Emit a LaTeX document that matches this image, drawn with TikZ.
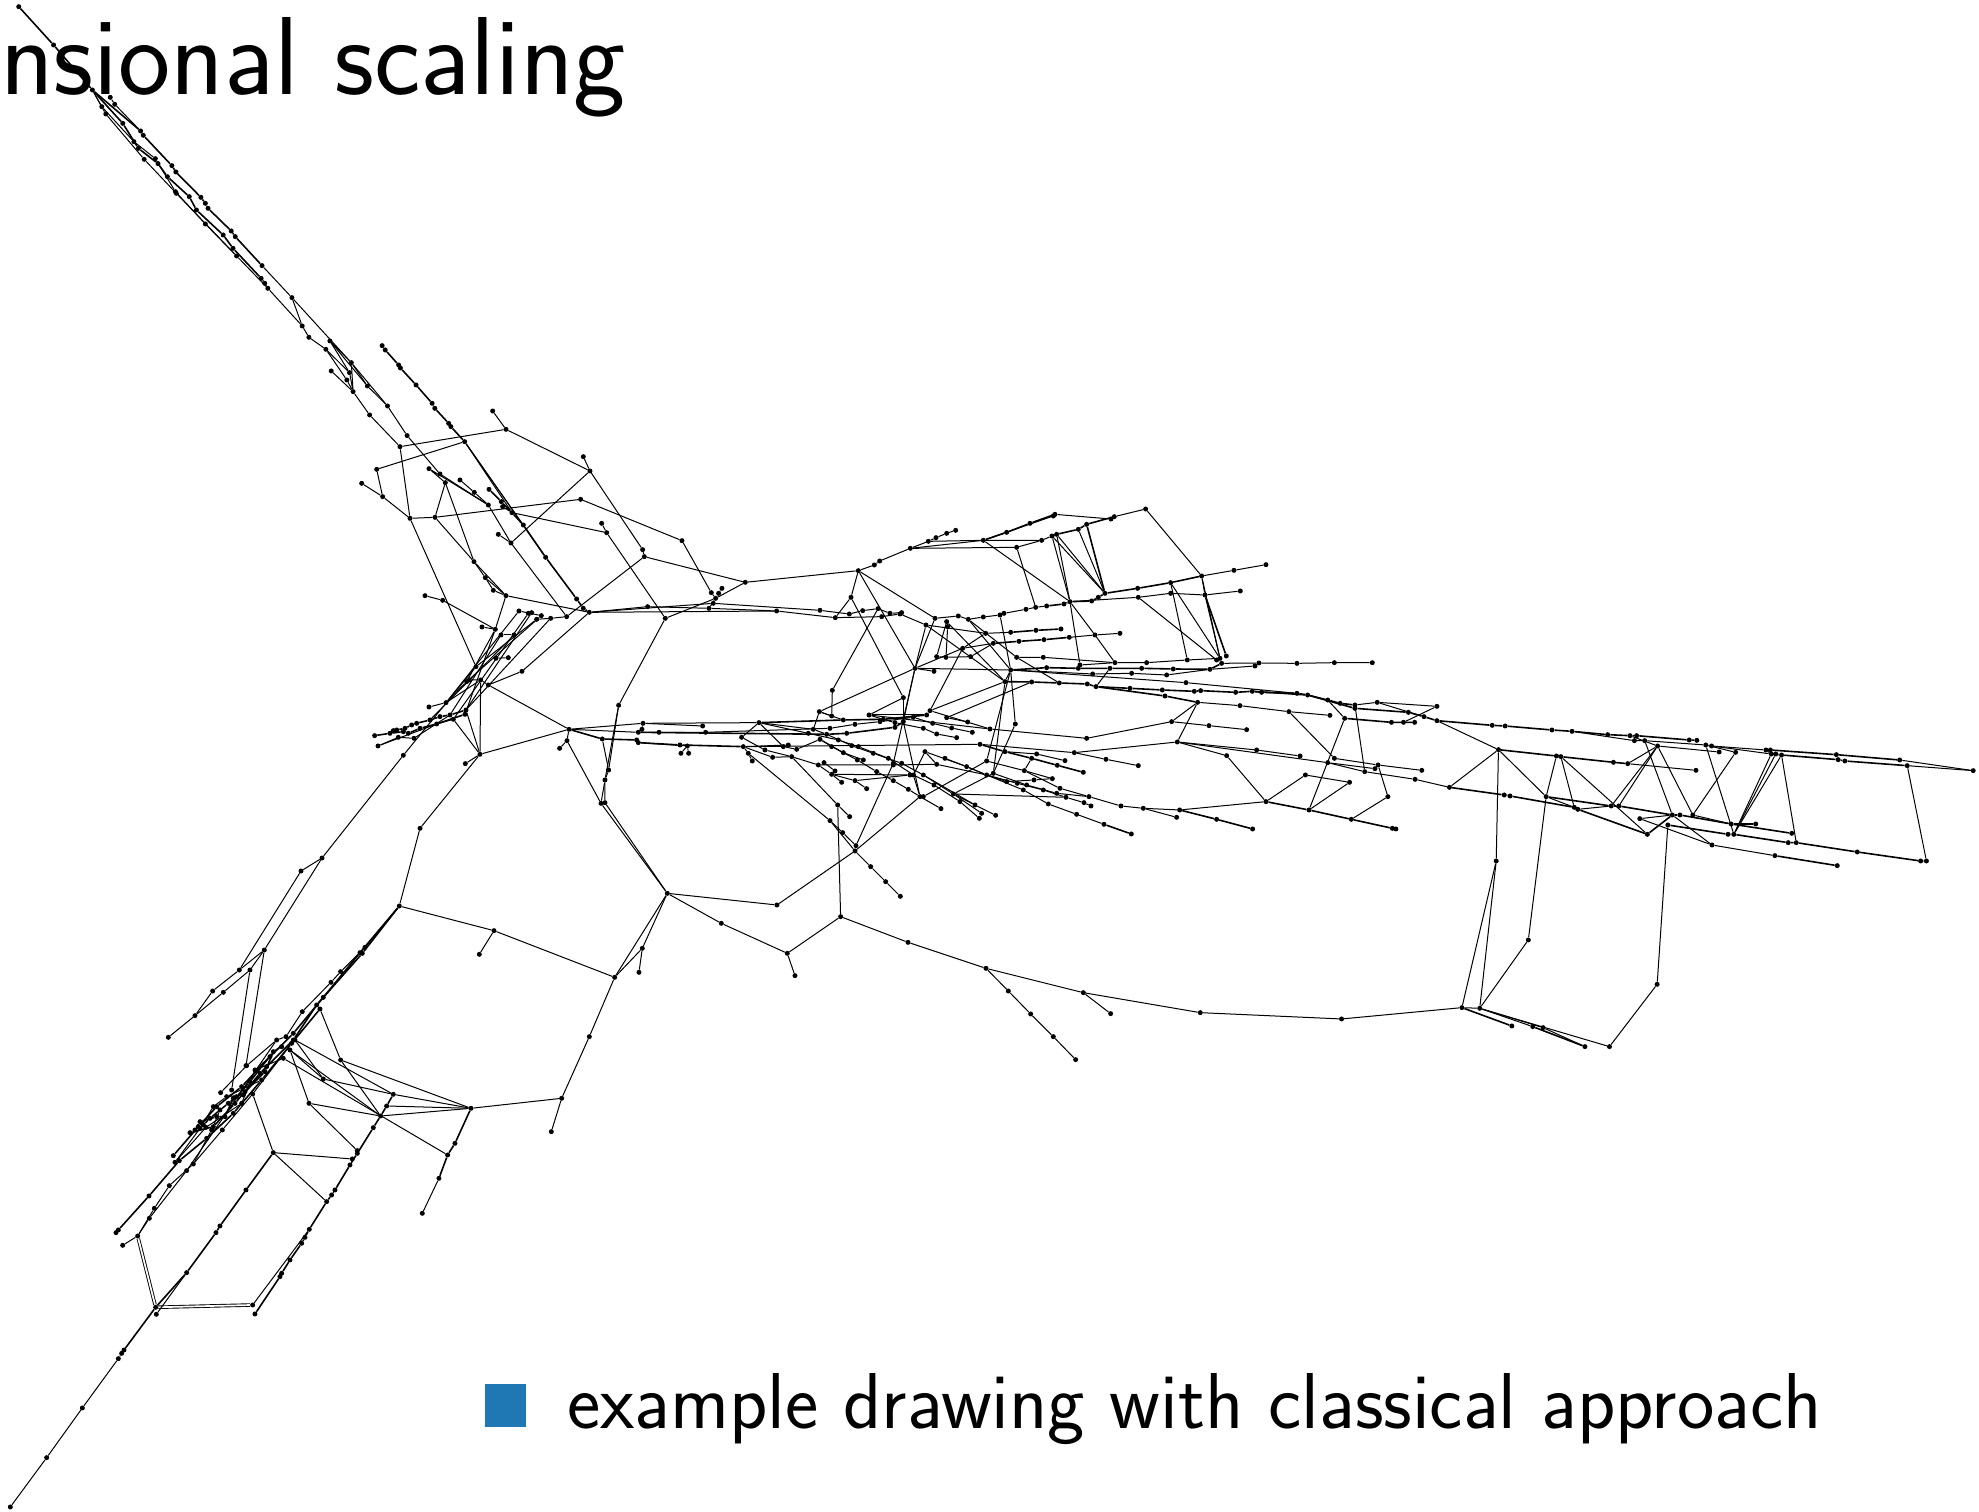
\documentclass[tikz,border=0pt]{standalone}
\usepackage{xcolor}
\definecolor{legendblue}{HTML}{1F77B4}
\begin{document}
\begin{tikzpicture}[
    x=1pt, y=-1pt,
    vtx/.style={circle, fill=black, inner sep=0pt, minimum size=5pt},
    link/.style={line width=1pt, black},
    heavy/.style={line width=1.6pt},
    twin/.style={double, double distance=1.7pt, line width=0.9pt},
    label/.style={anchor=base west, inner sep=0pt, font=\sffamily},
  ]
  \useasboundingbox (0,0) rectangle (1979,1512);

  % upper left arm
  \begin{scope}[x=0.4464pt, y=-0.3333pt]
    \foreach \name/\x/\y in {a1/42/20,a2/120/135,a3/207/270,a4/247/292,a5/257/313,a6/315/393,a7/321/406,a8/385/497,a9/394/516,a10/450/592,a11/460/610,a12/466/625,a13/518/693,a14/527/710,a15/587/797,a16/654/893,a17/228/320,a18/275/370,a19/300/425,a20/310/445,a21/348/476,a22/354/491,a23/375/530,a24/393/575,a25/424/590,a26/440/630,a27/460/672,a28/500/705,a29/522/745,a30/530/768,a31/585/835,a32/593/850,a33/600/865,a34/677/978,a35/692/1012,a36/730/1048,a37/783/1118,a38/791/1175,a39/828/1245,a40/237/342,a41/323/478,a42/395/580,a43/739/1023,a44/787/1088,a45/823/1158,a46/868/1218,a47/912/1307,a48/742/1113,a49/777/1140,a50/856/1037,a51/863/1050,a52/893/1095,a53/897/1104,a54/932/1155,a55/968/1210,a56/974/1225,a57/1005/1270,a58/1010/1280}
      \node[vtx] (\name) at (\x,\y) {};
  \end{scope}

  % left crossing
  \begin{scope}[shift={(340,400)}, x=0.3333pt, y=-0.3333pt]
    \foreach \name/\x/\y in {b1/180/140,b2/374/125,b3/498/88,b4/458/33,b5/750/213,b6/730/170,b7/513/429,b8/913/470,b9/908/449,b10/1216/547,b11/680/650,b12/110/208,b13/128/290,b14/210/355,b15/65/250,b16/285/352,b17/722/298,b18/1026/422,b19/1114/578,b20/1127/595,b21/976/655,b22/800/398,b23/785/370,b24/516/338,b25/836/916,b26/748/637,b27/923/620,b28/1107/625,b29/1310/633,b30/1120/610,b31/316/248,b32/402/485,b33/436/533,b34/498/587,b35/267/206,b36/445/315,b37/475/403,b38/360/240,b39/403/277,b40/447/268,b41/484/305,b42/488/320,b43/550/375,b44/617/472,b45/710/597,b46/730/625,b47/460/571,b48/466/688,b49/408/800,b50/255/587,b51/308/601,b52/426/681,b53/1146/565,b54/1136/580,b55/1440/631,b56/300/222,
      c1/537/633,c2/565/640,c3/575/638,c4/604/647,c5/632/655,c6/590/658,c7/483/705,c8/522/705,c9/505/773,c10/468/775,c11/546/814,c12/445/855,c13/422/840,c14/380/845,c15/388/840,c16/420/1063,c17/376/1091,c18/378/930,c19/375/943,c20/340/958,c21/318/908,c22/267/921,c23/104/1007,c24/150/1000,c25/170/990,c26/215/975,c27/270/960,c28/330/945,c29/114/1038,c30/175/1012,c31/222/1015,c32/290/972,c33/190/1066,c34/190/995,c35/240/985,c36/160/992,c37/195/985,c38/230/970,c39/300/950,c40/205/1000,
      e1/687/988,e2/681/1022,e3/659/1045,e4/787/1017,e5/806/1110,e6/795/1140,e7/909/970,e8/895/997,e9/957/997,e10/1088/978,e11/1097/997,e12/1257/968,e13/906/988,e14/890/1020,e15/895/1028,e16/1020/1035,e17/1023/1060,e18/1046/1060,e19/1042/1038,e20/1205/1012,e21/1210/1040,e22/1225/1060,e23/1237/1083,e24/1275/1050,e25/1298/1072}
      \node[vtx] (\name) at (\x,\y) {};
  \end{scope}

  % centre and upper right
  \begin{scope}[shift={(780,480)}, x=0.3333pt, y=-0.3333pt]
    \foreach \name/\x/\y in {k1/235/272,k2/283/255,k3/299/243,k4/391/205,k5/445/184,k6/468/173,k7/500/160,k8/527/151,k9/710/202,k10/785/181,k11/610/181,k12/680/157,k13/750/130,k14/825/103,k15/820/108,k16/993/117,k17/1003/110,k18/1097/87,k19/1265/288,k20/816/168,k21/830/163,k22/895/148,k23/920/133,k24/870/365,k25/767/382,k26/975/340,k27/213/352,k28/166/413,k29/370/653,k30/405/565,k31/465/415,k32/208/402,k33/248/392,k34/294/386,k35/365/398,k37/330/400,k38/305/410,k39/360/402,k40/438/435,k41/617/460,k42/535/408,k43/565/418,k44/610/411,k45/660/405,k46/672/400,k47/738/388,k48/800/378,k49/852/372,k50/935/363,k51/955/352,k52/1073/325,k53/1172/308,k54/1362/271,k55/1458/254,k56/1075/352,k57/1172/340,k58/1275/345,k59/1381/333,k60/1310/540,k61/1222/540,k62/1320/535,k63/1339/528,k64/900/555,k65/1005/548,k66/692/457,k67/768/451,k68/843/447,k69/640/490,k70/717/484,k71/792/479,k72/868/472,k73/945/465,k74/1020/460,k75/710/532,k76/790/532,k77/462/574,k78/692/570,k79/800/563,k80/895/565,k81/990/565,k82/1085/565,k83/1180/567,k84/1290/568,k85/1325/550,k86/1437/549,k87/1100/548,k88/938/582,k89/1055/580,k90/1160/585,k91/1425/558,k92/675/605,k93/755/606,k94/838/609,k95/922/612,k96/948/620,k97/1050/625,k98/1147/630,k99/1243/634,k100/1262/632,k101/1367/637,k102/1417/634,k103/1445/637,k104/1155/648,k105/1253/667,k106/1380/677,k107/1218/608,k108/1175/725,k109/920/775,k110/630/747,k111/450/692,k112/1287/737,k113/1400/749,k114/1192/786,k115/883/818,k116/600/793,k117/1340/827,k118/1458/965,k119/1430/810,k120/1199/990,k121/1090/985,k122/1023/978,k123/927/950,k124/840/925,k125/1310/1018,k126/1418/1047,k127/1190/1012,k128/500/713,k129/118/695,k130/548/505,k131/572/530,k132/498/532,k133/503/440,k134/500/425,k135/706/732,k136/640/880,k137/620/843,k138/370/725,k139/420/950,k140/340/850,k141/228/1097,k142/225/1113,k143/157/631,k144/155/708,k145/267/705,k146/470/530,
      n1/190/720,n2/310/718,n3/440/705,n4/150/745,n5/225/733,n6/300/725,n7/400/712,n8/140/763,n9/200/760,n10/345/742,n11/120/778,n12/155/800,n13/232/840,n14/290/875,n15/340/902,n16/385/928,n17/85/760,n18/175/780,n19/235/800,n20/325/835,n21/400/885,n22/462/915,n23/540/965,n24/598/1015,n25/100/748,n26/215/797,n27/280/820,n28/365/850,n29/430/885,n30/520/942,n31/605/1000,n33/190/818,n34/250/840,n35/10/800,n36/35/830,n37/115/855,n38/340/855,n39/470/853,n40/620/885,n41/730/930,n42/805/972,n43/890/1003,n44/972/1033,n45/1054/1062,n46/173/975,n47/209/1010,n49/150/1022,n50/188/1058,n51/272/1160,n53/155/883,n54/132/848,n55/165/873,n56/185/907,n57/225/902,n58/260/926,n59/435/815,n60/675/815,n61/755/835,n62/832/856,n63/910/877,n64/770/822,n65/855/842,n66/733/872,n67/817/896,n68/978/838,n69/1075/857,n70/560/860,n71/680/905,n72/762/900,n73/495/835,n74/712/910,n75/790/930,n76/858/952,n77/912/968,n78/933/978,n79/740/915,n80/830/940,n81/585/975,n82/647/1006,n83/483/986,n84/430/950,n85/515/744,n86/577/757,n87/458/730,n88/345/728,n89/430/745,n90/470/762,n91/530/773,n92/563/726,n94/390/885,n95/50/808,n96/25/795}
      \node[vtx] (\name) at (\x,\y) {};
  \end{scope}

  % lower middle
  \begin{scope}[shift={(400,780)}, x=0.3333pt, y=-0.3333pt]
    \foreach \name/\x/\y in {f1/603/70,f2/615/68,f3/802/340,f4/1131/375,f6/964/430,f7/1162/520,f8/1185/587,f9/1322/410,f11/644/592,f12/727/505,f13/717/577,f14/282/452,f15/238/523,f17/60/145,f18/568/770,f19/485/955,f20/213/985,f21/454/1055}
      \node[vtx] (\name) at (\x,\y) {};
  \end{scope}
  \begin{scope}[shift={(820,830)}, x=0.3333pt, y=-0.3333pt]
    \foreach \name/\x/\y in {g2/197/155,g3/241/199,g4/264/337,g5/498/415,g6/565/483,g7/632/552,g8/700/620,g9/767/689,g10/790/488,g11/872/551,g12/1141/548}
      \node[vtx] (\name) at (\x,\y) {};
  \end{scope}

  % right arm
  \begin{scope}[shift={(1280,640)}, x=0.4458pt, y=-0.3333pt]
    \foreach \name/\x/\y in {h1/408/1103,h2/448/1105,h3/485/663,h4/490/329,h5/557/900,h6/597/470,h7/739/1220,h8/846/1033,h9/870/555,h10/520/1158,h11/567/1160,h12/590/1163,h13/684/1220,h14/352/242,h15/476/256,h16/505/258,h17/610/270,h18/655/274,h19/735/284,h20/785/287,h21/800/287,h22/918/300,h23/935/301,h24/795/302,h25/818/302,h26/847/318,h27/955/315,h28/968/318,h29/1090/330,h30/1100/330,h31/1248/344,h32/1390/360,h33/1555/392,h34/985/336,h35/1022/337,h36/1102/342,h37/1112/342,h38/1125/345,h39/1252/359,h40/1267/363,h41/1407/377,h42/620/348,h43/630/350,h44/748/367,h45/780/371,h46/933/391,h47/380/442,h48/503/465,h49/516/468,h50/660/502,h51/668/508,h52/743/498,h53/760/498,h54/880/525,h55/897/525,h56/1012/552,h57/1067/552,h58/824/583,h59/807/536,h60/969/615,h61/1110/647,h62/1250/677,h63/1005/583,h64/1018/583,h65/1140/608,h66/1158/608,h67/1295/636,h68/1437/663,h69/1450/663,h70/926/525,h71/1148/580,h72/38/160,h73/62/165,h74/107/180,h75/135/190,h76/168/195,h77/218/187,h78/352/199,h79/277/247,h80/323/230,h81/168/205,h82/190/395,h83/145/235,h84/250/247,h85/302/247,h86/65/510,h87/288/217,h88/20/215,h89/112/226,h90/122/355,h91/220/375,h92/318/391,h93/107/368,h94/213/386,h95/242/470,h96/160/538,h97/45/348,h98/252/565,h99/260/567,h100/57/405,h101/156/427,h102/303/418,h103/38/70,h104/122/68,h105/207/68,h106/138/1137}
      \node[vtx] (\name) at (\x,\y) {};
  \end{scope}

  % lower left arm
  \begin{scope}[shift={(100,900)}, x=0.3333pt, y=-0.3333pt]
    \foreach \name/\x/\y in {j1/898/18,j4/795/142,j5/780/158,j6/787/160,j7/722/215,j8/693/247,j9/670/292,j10/650/315,j11/607/335,j12/660/327,j13/530/420,j14/558/410,j15/580/400,j16/440/497,j17/362/578,j18/510/470,j19/425/560,j20/350/620,j21/295/680,j22/220/767,j24/580/420,j25/480/520,j26/405/610,j27/340/680,j28/270/698,j29/575/430,j30/485/540,j31/400/640,j32/320/715,j33/238/782,j34/147/888,j35/55/990,j36/48/998,j37/458/582,j38/367/690,j39/280/792,j40/208/857,j41/163/925,j42/113/1008,j43/68/1036,j44/550/475,j45/425/610,j46/318/682,j47/225/787,j48/260/812,j49/148/955,j50/380/590,j51/430/585,j52/300/685,j53/340/620,j54/465/510,j55/500/500,j56/722/480,j57/842/648,j58/880/583,j59/670/537,j60/570/450,j61/627/610,j62/772/752,j63/860/618,j64/820/683,j65/772/760,j66/750/795,j67/705/870,j68/680/905,j69/628/988,j70/605/1030,j71/545/1120,j72/465/1242,j73/520/758,j74/757/777,j75/438/870,j76/360/978,j77/348/998,j78/260/1118,j79/167/1222,j80/458/1215,j81/169/1243,j82/1065/730,j83/1043/765,j84/1017/835,j85/967/940,j86/585/420,j87/493/150,j88/418/210,j89/338/273,j90/285/347,j91/205/412,j92/450/210,j93/370/277,j94/438/497,j95/395/570,
      j96/360/630,j97/330/655,j98/310/675,j99/385/610,j100/450/545,j101/520/455,j102/545/440,j103/410/590,j104/350/650,j105/300/665,j106/375/650,j107/435/575,j108/495/515,j109/335/690,j110/285/690,j111/400/595,j112/615/1012,j113/570/1080,j114/695/885,j115/540/1130}
      \node[vtx] (\name) at (\x,\y) {};
  \end{scope}
  \begin{scope}[shift={(0,1240)}, x=0.3333pt, y=-0.3333pt]
    \foreach \name/\x/\y in {q1/31/801,q2/140/653,q3/247/504,q4/355/356,q5/365/340,q6/372/330}
      \node[vtx] (\name) at (\x,\y) {};
  \end{scope}
  \node[vtx] (u1) at (322,858) {};
  \node[vtx] (u2) at (301,871) {};

  % upper left edges
  \begin{scope}[link]
    \draw[heavy] (a1)--(a2)--(a3)--(a18)--(a20)--(a22)--(a23)--(a25)--(a26)--(a28)--(a29)--(a31)--(a32)--(a33);
    \draw (a33)--(a34)--(a35)--(a36)--(a37)--(a38)--(a39)--(b1);
    \draw[heavy] (a3)--(a6)--(a7)--(a8)--(a9)--(a10)--(a11)--(a12)--(a13)--(a14)--(a15);
    \draw (a4)--(a5)--(a6); \draw (a15)--(a16)--(a44)--(a45)--(a46)--(a47)--(b56)--(b36)--(b7)--(b11);
    \draw (a3)--(a17)--(a19)--(a21)--(a24)--(a27)--(a30)--(a33);
    \draw (a40)--(a41)--(a42)--(a30); \draw (a3)--(a40);
    \draw (a16)--(a34); \draw (a43)--(a37); \draw (a43)--(a44)--(a38); \draw (a43)--(a45);
    \draw (a36)--(a49)--(a38); \draw (a48)--(a38); \draw (a44)--(a46);
    \draw[heavy] (a50)--(a51)--(a52)--(a53)--(a54)--(a55)--(a56)--(a57)--(a58)--(b2);

    % left crossing edges
    \draw (b1)--(b3)--(b5)--(b9)--(b8)--(b10)--(k1); \draw (b8)--(b11); \draw (b3)--(b4); \draw (b5)--(b6); \draw (b5)--(b7);
    \draw (b2)--(b12)--(b13)--(b14)--(b1); \draw (b15)--(b13);
    \draw (b14)--(b16)--(b17)--(b18)--(b19)--(b20); \draw (b10)--(b20)--(b21); \draw (b53)--(b54)--(b20);
    \draw (b21)--(b22)--(b23); \draw (b22)--(b24); \draw (b21)--(b25);
    \draw (b26)--(b27)--(b28)--(b29)--(k28); \draw (b28)--(b20); \draw (b26)--(b30)--(b55); \draw (b26)--(b29);
    \draw (b16)--(b31)--(b32); \draw (b16)--(b32)--(b33)--(b34); \draw (b32)--(b34); \draw (b33)--(b47)--(b34);
    \draw (b31)--(b35)--(b36); \draw (b38)--(b39)--(b36); \draw (b37)--(b7);
    \draw[heavy] (b40)--(b41)--(b24)--(b43)--(b44)--(b45)--(b46)--(b26);
    \draw (b2)--(b24); \draw (b2)--(b43); \draw (b2)--(b44); \draw (b42)--(b24);
    \draw (b34)--(b26); \draw (b34)--(b48)--(c14); \draw (b14)--(b49);
    \draw (b50)--(b51)--(b48)--(b52);
    \draw (b11)--(c5)--(c6); \draw (c1)--(c4); \draw (c1)--(c21); \draw (c2)--(c20); \draw (c3)--(c18); \draw (c4)--(c14); \draw (c5)--(c18); \draw (c6)--(b49); \draw (b48)--(c19);
    \draw (c7)--(c8); \draw (c9)--(c10); \draw (b26)--(c11)--(c12)--(c13); \draw (c12)--(e1); \draw (c13)--(c16)--(e1); \draw (c16)--(c17); \draw (c16)--(c18); \draw (c16)--(c20);
    \draw (b49)--(c33)--(u1)--(j87); \draw (c22)--(c21)--(c13); \draw (c21)--(c14)--(c15)--(c13);
    \draw[heavy] (c23)--(c24)--(c36)--(c25)--(c37)--(c26)--(c38)--(c27)--(c39)--(c28)--(c18); \draw[heavy] (c24)--(c34)--(c40)--(c35)--(c32)--(c19);
    \draw (c29)--(c30)--(c31)--(c28); \draw (c29)--(c32)--(c20); \draw (c8)--(c27); \draw (c7)--(c28);
    \draw (c16)--(f17)--(j1);

    % horizontal start
    \draw (e1)--(e7)--(e13)--(e8); \draw (e7)--(e10); \draw (e7)--(e12); \draw (e1)--(e8)--(e9)--(e11)--(n4)--(n5)--(n6)--(n7);
    \draw[heavy] (e1)--(e4)--(e14)--(e15)--(e16)--(e21); \draw (e21)--(k116); \draw (e15)--(e19)--(e17); \draw (e19)--(e18);
    \draw (e3)--(e2)--(f1); \draw (e1)--(e2); \draw (e4)--(e5)--(e6)--(f1); \draw (b25)--(e5); \draw (b25)--(e6)--(f2);
    \draw[heavy] (e12)--(n1)--(n2)--(n3); \draw[heavy] (e8)--(n8)--(n9)--(n10)--(k138);
    \draw (e12)--(n25)--(n8)--(n26)--(n27)--(n28)--(n29)--(n30)--(n31);
    \draw (e12)--(n17)--(n18)--(n19)--(n20)--(n21)--(n22)--(n23)--(n24);
    \draw (e12)--(n35)--(n95)--(n11)--(n12)--(n13)--(n14)--(n15)--(n16)--(k139);
    \draw (e20)--(e24)--(n36); \draw (e21)--(e25)--(n36); \draw (e21)--(e22)--(e23); \draw (e22)--(n49); \draw (e12)--(e20); \draw (e21)--(n96);

    % upper right edges
    \draw (k1)--(k2)--(k3)--(k4)--(k5)--(k6)--(k7)--(k8);
    \draw (k4)--(k9)--(k10)--(k20); \draw (k4)--(k11)--(k10); \draw (k5)--(k11); \draw[heavy] (k11)--(k12)--(k13)--(k14); \draw (k14)--(k16)--(k17)--(k18)--(k19); \draw (k11)--(k15);
    \draw[heavy] (k20)--(k21)--(k22)--(k23)--(k17); \draw (k11)--(k24); \draw (k9)--(k25); \draw (k20)--(k24); \draw (k21)--(k24); \draw (k21)--(k26); \draw (k20)--(k26); \draw[heavy] (k23)--(k26); \draw (k22)--(k26);
    \draw (k1)--(k27)--(k28); \draw (k27)--(k29); \draw (k1)--(k30); \draw (k1)--(k31);
    \draw (b55)--(k32)--(k33)--(k34)--(k37)--(k35); \draw (k28)--(k38)--(k39)--(k40)--(k41)--(k66); \draw[heavy] (k66)--(k67)--(k68);
    \draw (k34)--(k143)--(k144)--(k129);
    \draw (k31)--(k42)--(k43)--(k44)--(k45)--(k46)--(k47)--(k25)--(k48); \draw[heavy] (k48)--(k49)--(k24)--(k50)--(k51)--(k26)--(k52)--(k53)--(k19); \draw (k19)--(k54)--(k55);
    \draw (k24)--(k56)--(k57)--(k58)--(k59); \draw (k56)--(k60); \draw (k53)--(k61); \draw (k53)--(k62); \draw (k19)--(k62); \draw[heavy] (k58)--(k63); \draw (k58)--(k62); \draw (k19)--(k58);
    \draw (k24)--(k64); \draw (k24)--(k73)--(k65);
    \draw[heavy] (k69)--(k70)--(k71)--(k72); \draw (k72)--(k73)--(k74); \draw (k75)--(k76)--(k65); \draw (k30)--(k77);
    \draw (k30)--(k78); \draw[heavy] (k78)--(k79)--(k80)--(k81)--(k82)--(k83)--(k84)--(k85); \draw (k85)--(k86)--(h103)--(h104)--(h105);
    \draw (k64)--(k65)--(k87)--(k61)--(k62)--(k85); \draw (k78)--(k88)--(k89)--(k90)--(k84)--(k91);
    \draw[heavy] (k92)--(k93)--(k94)--(k95)--(k96)--(k97)--(k98)--(k99)--(k100)--(k101)--(k102)--(k103)--(h72)--(h73)--(h74)--(h75)--(h76); \draw (h76)--(h77)--(h78);
    \draw (k96)--(k81); \draw[heavy] (k96)--(k104)--(k105); \draw (k105)--(k106)--(h88)--(h89); \draw (k78)--(k107)--(h72);
    \draw (k105)--(k108)--(k109)--(k110)--(k111); \draw (k108)--(k112)--(k113);
    \draw (k105)--(k114)--(k115)--(k116); \draw (k114)--(k117)--(k118); \draw (k114)--(h93); \draw (k114)--(k119)--(h97);
    \draw (k118)--(k120)--(k121)--(k122)--(k123)--(k124); \draw[heavy] (k120)--(k125)--(k126); \draw (k121)--(k127);
    \draw (k93)--(k128); \draw (k92)--(k111); \draw (k30)--(k129); \draw (k111)--(k130)--(k69); \draw (k41)--(k130)--(k30);
    \draw (k69)--(k131)--(k132)--(k133)--(k134); \draw (k146)--(k134); \draw (k146)--(k132);
    \draw (k40)--(k30); \draw (k31)--(k30); \draw (k40)--(k92); \draw (k134)--(k92); \draw (k43)--(k75)--(k94); \draw (k45)--(k78); \draw (k43)--(k78);
    \draw (k78)--(k135)--(k136); \draw (k78)--(k137); \draw (k92)--(k136); \draw (k78)--(k92);
    \draw (k30)--(k138)--(k139); \draw (k29)--(k138); \draw (k29)--(k145); \draw (k30)--(k140)--(k141)--(k142)--(k139);
    \draw (k129)--(n1); \draw (k129)--(n25); \draw (k145)--(n3); \draw (k145)--(k110);
    \draw (k145)--(n2)--(n88)--(n89)--(n90)--(n91); \draw (n7)--(n87)--(n85)--(n86); \draw (k128)--(n92);

    % centre edges
    \draw (n36)--(n37)--(n38)--(n39)--(n40)--(n41)--(n42)--(n43)--(n44); \draw[heavy] (n44)--(n45);
    \draw (n36)--(n46)--(n47); \draw (n46)--(f9);
    \draw (n54)--(n55); \draw (n37)--(n53)--(n56); \draw (n53)--(n57)--(n58); \draw (n53)--(n94); \draw (n57)--(n94); \draw (n11)--(n33)--(n34);
    \draw (n59)--(n39); \draw (n59)--(n21)--(k139); \draw (n59)--(n70)--(n40);
    \draw[heavy] (k116)--(n60)--(n61)--(n62)--(n63); \draw (n60)--(n64)--(n65); \draw (n61)--(n66)--(n67); \draw (k137)--(n66)--(k124);
    \draw (k115)--(n68)--(n69);
    \draw (n73)--(n70)--(n40)--(n74)--(n75)--(n76)--(n77)--(n78); \draw (n40)--(n71)--(n72)--(n67);
    \draw (k136)--(n79)--(n80)--(k123); \draw (k137)--(n84)--(k139); \draw (k136)--(n30); \draw (n29)--(n81)--(n82); \draw (n30)--(n81); \draw (n30)--(n76); \draw (k139)--(n83);
    \draw (n49)--(n50)--(k141); \draw (n49)--(k142)--(n51)--(g2)--(g3);

    % lower middle edges
    \draw (f1)--(f3); \draw (f2)--(f3); \draw (f3)--(f4)--(k142); \draw (f3)--(f6)--(f7)--(f9); \draw (f7)--(f8);
    \draw (f3)--(f11); \draw (f3)--(f12)--(f11); \draw (f12)--(f13); \draw (f11)--(f18)--(f19)--(f20); \draw (f19)--(f21);
    \draw (f11)--(f14)--(j1); \draw (f14)--(f15);
    \draw (f9)--(g4)--(g5)--(g10)--(g12)--(h106)--(h1); \draw (g5)--(g6)--(g7)--(g8)--(g9); \draw (g10)--(g11);

    % right edges
    \draw[heavy] (h14)--(h15)--(h16)--(h17)--(h18)--(h19)--(h20)--(h21)--(h22)--(h23);
    \draw (h18)--(h24)--(h25)--(h27)--(h28)--(h29)--(h30); \draw[heavy] (h30)--(h31)--(h32); \draw (h32)--(h33); \draw (h20)--(h26)--(h34);
    \draw (h28)--(h36); \draw[heavy] (h36)--(h37)--(h38)--(h39)--(h40)--(h41); \draw (h41)--(h33); \draw (h29)--(h36);
    \draw (h14)--(h4); \draw[heavy] (h4)--(h42)--(h43)--(h44)--(h45); \draw (h45)--(h46); \draw (h4)--(h47); \draw (h4)--(h6); \draw (h4)--(h3)--(h1); \draw (h3)--(h2); \draw (h1)--(h2);
    \draw (h2)--(h5)--(h6); \draw (h2)--(h7)--(h8)--(h9); \draw[heavy] (h1)--(h10); \draw (h2)--(h11); \draw[heavy] (h11)--(h13); \draw (h2)--(h12)--(h13);
    \draw (h42)--(h6); \draw (h43)--(h50); \draw (h43)--(h58);
    \draw[heavy] (h6)--(h52)--(h53)--(h54)--(h55)--(h56)--(h57); \draw[heavy] (h47)--(h48)--(h49)--(h50)--(h51); \draw (h51)--(h52); \draw (h6)--(h50);
    \draw (h102)--(h47); \draw[heavy] (h51)--(h58); \draw[heavy] (h58)--(h54); \draw (h59)--(h54); \draw (h59)--(h60)--(h61); \draw[heavy] (h61)--(h62); \draw (h54)--(h60);
    \draw (h53)--(h26); \draw (h52)--(h26); \draw (h45)--(h26); \draw (h26)--(h70)--(h35); \draw (h25)--(h54); \draw (h27)--(h64); \draw (h27)--(h35);
    \draw[heavy] (h56)--(h71); \draw (h70)--(h56); \draw[heavy] (h9)--(h63)--(h64)--(h65)--(h66)--(h67)--(h68)--(h69);
    \draw (h64)--(h36); \draw (h64)--(h37); \draw (h64)--(h38); \draw (h38)--(h66); \draw (h41)--(h69);
    \draw[heavy] (k102)--(h73)--(h81)--(h87)--(h80)--(h14); \draw (h78)--(h79); \draw (h77)--(h80);
    \draw (h76)--(h82); \draw[heavy] (h83)--(h84)--(h79)--(h85); \draw (h74)--(h83)--(h86);
    \draw (h88)--(h90)--(h91)--(h92); \draw (h93)--(h94); \draw (h93)--(h82)--(h102); \draw (h91)--(h95)--(h96);
    \draw[heavy] (k118)--(h86)--(h96)--(h98)--(h99); \draw (k118)--(h100)--(h101)--(h86);

    % lower left edges
    \draw (j1)--(j4)--(j7)--(j8)--(j11)--(j14)--(j13)--(j16)--(j17);
    \draw[heavy] (j1)--(j5)--(j9)--(j15)--(j18)--(j19)--(j20)--(j21)--(j22);
    \draw[heavy] (j1)--(j6)--(j10)--(j24)--(j25)--(j26)--(j27)--(j28);
    \draw[heavy] (j12)--(j29)--(j30)--(j31)--(j32)--(j33)--(j34)--(j35)--(j36);
    \draw (j29)--(j37)--(j38)--(j39)--(j40)--(j41)--(j42)--(j43);
    \draw (j44)--(j54)--(j45)--(j46)--(j47); \draw (j13)--(j48)--(j49)--(j42);
    \draw (j55)--(j51)--(j50)--(j53)--(j52)--(j47); \draw (j25)--(j51); \draw (j30)--(j50); \draw (j18)--(j54);
    \draw[heavy] (j102)--(j101)--(j100)--(j103)--(j99)--(j96)--(j97)--(j98); \draw[heavy] (j101)--(j108)--(j107)--(j111)--(j106)--(j104)--(j105)--(j110); \draw (j96)--(j109)--(j39);
    \draw (f20)--(j56)--(j12); \draw (j56)--(j57); \draw (j86)--(j58)--(f20); \draw (j60)--(j59)--(j58); \draw (j60)--(j57); \draw (j44)--(j83);
    \draw (j60)--(j61)--(j57)--(f20); \draw (j61)--(j62); \draw (j63)--(f20);
    \draw[heavy] (j58)--(j63)--(j57)--(j64)--(j65)--(j66)--(j67)--(j114)--(j68)--(j69)--(j112)--(j70)--(j113)--(j71)--(j115)--(j72); \draw (j86)--(j59);
    \draw (j37)--(j73)--(j74); \draw (j73)--(j68); \draw[heavy] (j73)--(j75)--(j76)--(j77)--(j78)--(j79)--(q6)--(q5); \draw (q5)--(q4)--(q3)--(q2)--(q1);
    \draw[twin] (j42)--(j79); \draw[twin] (j79)--(j80); \draw (j80)--(j69); \draw (j81)--(j78);
    \draw[heavy] (f20)--(j82)--(j83)--(j84); \draw (j84)--(j85);
    \draw (j87)--(j88)--(j89)--(j90)--(j91); \draw (u1)--(u2)--(j88); \draw (j87)--(j92)--(j93)--(j90); \draw (j87)--(j94); \draw (j92)--(j95);
  \end{scope}

  \node[label, font=\sffamily\fontsize{111}{125}\selectfont] (title) at (0,95) {nsional scaling};
  \node[fill=legendblue, minimum width=41pt, minimum height=43pt, inner sep=0pt] (legendkey) at (505.5,1405.5) {};
  \node[label, font=\sffamily\fontsize{79.3}{95}\selectfont] (legendtext) at (567,1428) {example drawing with classical approach};
\end{tikzpicture}
\end{document}
